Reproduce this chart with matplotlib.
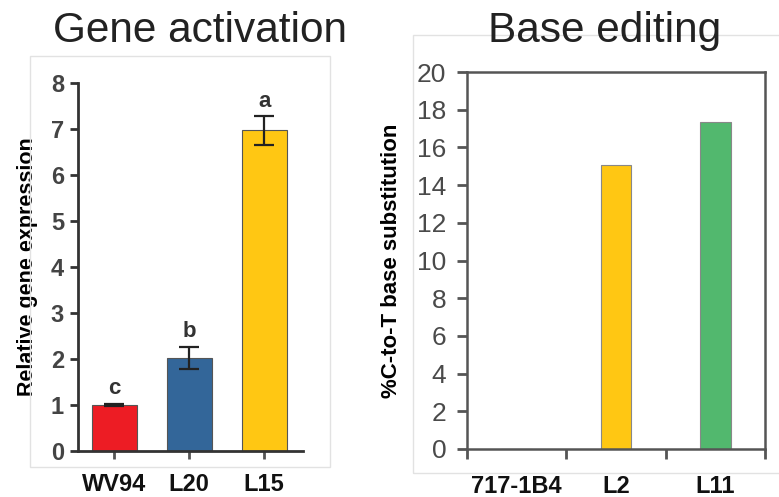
import matplotlib
matplotlib.use('Agg')
from matplotlib import pyplot as plt
from matplotlib.patches import Rectangle
import numpy as np

plt.rcParams['font.family'] = ['Liberation Sans', 'DejaVu Sans']

# Gene activation panel
gene_lines = ['WV94', 'L20', 'L15']
gene_expr = [1.0, 2.03, 6.97]
gene_err = [0.03, 0.24, 0.31]
gene_letters = ['c', 'b', 'a']
gene_colors = ['#ED1C24', '#336699', '#FFC713']

# Base editing panel
edit_lines = ['717-1B4', 'L2', 'L11']
edit_pct = [0.0, 15.05, 17.35]
edit_colors = ['#FFC713', '#FFC713', '#52B86E']

W, H = 779, 497
fig = plt.figure(figsize=(W / 100, H / 100), dpi=100)

def px_rect(x0, y0, x1, y1):
    # pixel box (top-left origin) -> figure fraction
    return [x0 / W, 1 - y1 / H, (x1 - x0) / W, (y1 - y0) / H]

# light panel frames
for (x0, y0, x1, y1) in [(30, 56, 330, 467), (413, 35, 790, 473)]:
    r = px_rect(x0, y0, x1, y1)
    fig.patches.append(Rectangle((r[0], r[1]), r[2], r[3], transform=fig.transFigure,
                                 fill=False, edgecolor='#e2e2e2', lw=1.0))

# ---- left ----
ax1 = fig.add_axes(px_rect(78, 83, 303, 451))
x = np.arange(len(gene_lines))
ax1.bar(x, gene_expr, width=0.6, color=gene_colors, edgecolor='#555555', linewidth=0.8, zorder=2)
ax1.errorbar(x, gene_expr, yerr=gene_err, fmt='none', ecolor='#222222',
             elinewidth=1.6, capsize=7, capthick=1.6, zorder=3)
for xi, v, e, lab in zip(x, gene_expr, gene_err, gene_letters):
    ax1.text(xi, v + e + 0.1, lab, ha='center', va='bottom', fontsize=16,
             fontweight='bold', color='#333333')
ax1.set_xlim(-0.487, 2.52)
ax1.set_ylim(0, 8)
ax1.set_yticks(range(0, 9))
ax1.set_xticks(x)
ax1.set_xticklabels(gene_lines, fontsize=17, fontweight='bold', color='#111111')
for t in ax1.get_yticklabels():
    t.set_fontsize(17)
    t.set_fontweight('bold')
    t.set_color('#444444')
ax1.spines['top'].set_visible(False)
ax1.spines['right'].set_visible(False)
for s in ['left', 'bottom']:
    ax1.spines[s].set_color('#333333')
    ax1.spines[s].set_linewidth(2)
ax1.tick_params(axis='y', length=6, width=2, color='#333333', pad=4)
ax1.tick_params(axis='x', length=6, width=2, color='#555555', pad=10)
ax1.set_ylabel('Relative gene expression', fontsize=15.5, fontweight='bold', labelpad=9)
fig.text(200 / W, 1 - 31 / H, 'Gene activation', ha='center', va='center',
         fontsize=30.5, color='#222222')

# ---- right ----
ax2 = fig.add_axes(px_rect(467, 72, 765, 449))
x2 = np.arange(len(edit_lines))
ax2.bar(x2, edit_pct, width=0.31, color=edit_colors, edgecolor='#888888', linewidth=0.8, zorder=2)
ax2.set_xlim(-0.5, 2.5)
ax2.set_ylim(0, 20)
ax2.set_yticks(range(0, 21, 2))
ax2.set_xticks([-0.5, 0.5, 1.5, 2.5])
ax2.set_xticklabels([])
ax2.set_xticks(x2, minor=True)
ax2.set_xticklabels(edit_lines, minor=True, fontsize=17, fontweight='bold', color='#111111')
ax2.tick_params(axis='x', which='minor', length=0, pad=19)
ax2.tick_params(axis='x', which='major', length=7, width=2, color='#555555')
ax2.tick_params(axis='y', length=7, width=2, color='#555555', labelsize=19, labelcolor='#4a4a4a', pad=8)
for s in ax2.spines.values():
    s.set_color('#555555')
    s.set_linewidth(1.8)
ax2.set_ylabel('%C-to-T base substitution', fontsize=16, fontweight='bold', labelpad=11)
fig.text(605 / W, 1 - 31 / H, 'Base editing', ha='center', va='center',
         fontsize=30.5, color='#222222')

fig.savefig('out.png', dpi=100)
